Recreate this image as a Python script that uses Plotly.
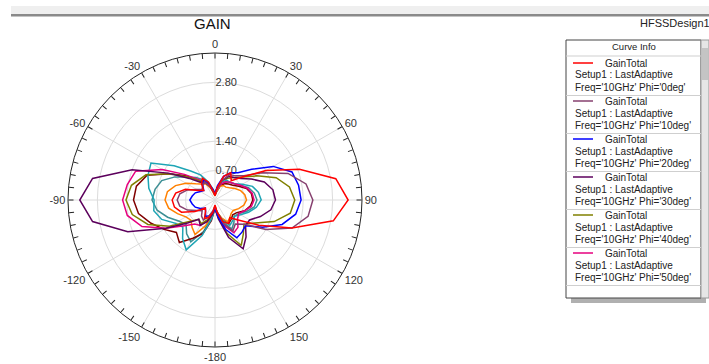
import plotly.graph_objects as go

# ---------------- data ----------------
theta_deg = list(range(-180, 181, 10))

gain_phi0 = [0.12, 0.3, 0.45, 0.5, 0.35, 0.3, 0.55, 0.85, 0.98, 1.02, 0.95, 0.75, 0.45, 0.35, 0.5, 0.6, 0.45, 0.2, 0.1,
             0.3, 0.6, 0.75, 0.6, 0.85, 1.4, 2.14, 2.92, 3.17, 2.86, 1.95, 1.2, 0.75, 0.55, 0.65, 0.55, 0.3, 0.12]
gain_phi10 = [0.15, 0.25, 0.4, 0.55, 0.5, 0.4, 0.5, 0.7, 0.85, 0.9, 0.85, 0.7, 0.5, 0.4, 0.45, 0.5, 0.35, 0.2, 0.12,
              0.25, 0.5, 0.7, 0.75, 0.9, 1.3, 1.85, 2.2, 2.33, 2.25, 1.95, 1.4, 0.9, 0.75, 0.85, 0.6, 0.3, 0.15]
gain_phi20 = [0.2, 0.3, 0.4, 0.45, 0.35, 0.3, 0.4, 0.5, 0.55, 0.6, 0.55, 0.5, 0.4, 0.35, 0.45, 0.55, 0.4, 0.25, 0.15,
              0.35, 0.6, 0.75, 0.85, 1.14, 1.6, 1.95, 2.02, 2.05, 1.95, 1.7, 1.3, 0.95, 1.0, 1.04, 0.75, 0.4, 0.2]
gain_phi30 = [0.2, 0.35, 0.55, 0.7, 0.6, 0.85, 1.35, 2.21, 2.96, 3.22, 2.96, 2.1, 1.28, 0.8, 0.55, 0.5, 0.35, 0.2, 0.15,
              0.3, 0.5, 0.65, 0.7, 0.8, 1.0, 1.25, 1.4, 1.44, 1.35, 1.15, 0.95, 0.95, 1.15, 1.34, 0.95, 0.45, 0.2]
gain_phi40 = [0.2, 0.3, 0.5, 0.65, 0.6, 0.8, 1.25, 1.7, 2.0, 2.12, 2.02, 1.75, 1.25, 0.85, 0.6, 0.5, 0.35, 0.2, 0.15,
              0.3, 0.5, 0.6, 0.7, 0.85, 1.15, 1.55, 1.8, 1.9, 1.82, 1.5, 1.1, 0.9, 1.05, 1.25, 0.85, 0.4, 0.2]
gain_phi50 = [0.2, 0.3, 0.5, 0.7, 0.75, 0.95, 1.35, 1.85, 2.12, 2.2, 2.12, 2.01, 1.45, 0.95, 0.65, 0.5, 0.35, 0.2, 0.12,
              0.25, 0.4, 0.5, 0.55, 0.6, 0.7, 0.82, 0.9, 0.93, 0.88, 0.75, 0.65, 0.7, 0.85, 0.9, 0.65, 0.35, 0.2]
gain_phi60 = [0.2, 0.45, 0.9, 1.37, 1.2, 1.0, 1.1, 1.35, 1.48, 1.45, 1.6, 1.7, 1.76, 1.27, 0.9, 0.69, 0.45, 0.25, 0.12,
              0.25, 0.45, 0.55, 0.55, 0.6, 0.75, 0.95, 1.05, 1.1, 1.0, 0.85, 0.7, 0.6, 0.65, 0.7, 0.5, 0.3, 0.2]
gain_phi70 = [0.15, 0.35, 0.65, 0.95, 0.85, 0.75, 0.8, 0.95, 1.12, 1.19, 1.15, 1.0, 0.8, 0.6, 0.5, 0.45, 0.3, 0.15, 0.1,
              0.2, 0.35, 0.4, 0.4, 0.45, 0.55, 0.65, 0.72, 0.75, 0.7, 0.6, 0.5, 0.5, 0.55, 0.6, 0.45, 0.3, 0.15]
gain_phi80 = [0.2, 0.5, 0.85, 1.05, 1.32, 1.2, 1.4, 1.62, 1.85, 1.94, 1.9, 1.72, 1.25, 0.9, 0.6, 0.5, 0.35, 0.2, 0.12,
              0.2, 0.35, 0.45, 0.5, 0.55, 0.65, 0.8, 0.88, 0.9, 0.85, 0.75, 0.6, 0.55, 0.6, 0.65, 0.5, 0.3, 0.2]
gain_phi90 = [0.2, 0.4, 0.8, 1.15, 1.05, 0.9, 1.0, 1.2, 1.4, 1.5, 1.45, 1.35, 1.1, 0.85, 0.7, 0.55, 0.4, 0.2, 0.1,
              0.2, 0.35, 0.5, 0.55, 0.6, 0.7, 0.85, 0.95, 1.0, 0.95, 0.8, 0.65, 0.6, 0.7, 0.8, 0.55, 0.3, 0.2]

phi_labels = ["0deg", "10deg", "20deg", "30deg", "40deg", "50deg", "60deg", "70deg", "80deg", "90deg"]
curve_colors = ["#ff0000", "#86406f", "#0000ff", "#5c005c", "#808000", "#e6007e",
                "#1ea5b5", "#ff8000", "#800000", "#3d8f94"]
all_gains = [gain_phi0, gain_phi10, gain_phi20, gain_phi30, gain_phi40,
             gain_phi50, gain_phi60, gain_phi70, gain_phi80, gain_phi90]

radial_ticks = [0.70, 1.40, 2.10, 2.80]
radial_max = 3.5
angle_labels = {0: "0", 30: "30", 60: "60", 90: "90", 120: "120", 150: "150",
                180: "-180", 210: "-150", 240: "-120", 270: "-90", 300: "-60", 330: "-30"}
legend_shown = 6

# ---------------- figure ----------------
W, H = 709, 364
fig = go.Figure()

# placeholder so the grid subplot is rendered
fig.add_trace(go.Scatterpolar(r=[0], theta=[0], mode="markers", marker=dict(opacity=0),
                              hoverinfo="skip", showlegend=False, subplot="polar"))

# data traces (red on top)
for i in reversed(range(len(all_gains))):
    fig.add_trace(go.Scatterpolar(
        r=all_gains[i], theta=theta_deg, mode="lines",
        line=dict(color=curve_colors[i], width=1.5),
        name="Phi='%s'" % phi_labels[i], subplot="polar2", showlegend=False))

R = 147
CX, CY = 215, 200
dom_x = [(CX - R) / W, (CX + R) / W]
dom_y = [1 - (CY + R) / H, 1 - (CY - R) / H]

tickvals5 = list(range(0, 360, 5))
ticktext5 = [angle_labels.get(v, "") for v in tickvals5]

fig.update_layout(
    template="none",
    width=W, height=H, margin=dict(l=0, r=0, t=0, b=0),
    paper_bgcolor="white", plot_bgcolor="white",
    font=dict(family="Arial, Liberation Sans, sans-serif", color="#222"),
    showlegend=False,
    polar=dict(
        domain=dict(x=dom_x, y=dom_y), bgcolor="white",
        radialaxis=dict(range=[0, radial_max], tickmode="array", tickvals=radial_ticks,
                        ticktext=["%.2f" % v for v in radial_ticks], showline=False, ticks="",
                        showgrid=True, gridcolor="#dcdcdc", gridwidth=1, angle=90,
                        side="clockwise", tickangle=90,
                        tickfont=dict(size=11, color="#333")),
        angularaxis=dict(rotation=90, direction="clockwise", dtick=30, showticklabels=False,
                         ticks="", showline=False, showgrid=True, gridcolor="#dcdcdc", gridwidth=1),
    ),
    polar2=dict(
        domain=dict(x=dom_x, y=dom_y), bgcolor="rgba(0,0,0,0)",
        radialaxis=dict(range=[0, radial_max], showgrid=False, showline=False,
                        showticklabels=False, ticks=""),
        angularaxis=dict(rotation=90, direction="clockwise", tickmode="array",
                         tickvals=tickvals5, ticktext=ticktext5, ticks="inside", ticklen=5,
                         tickcolor="#222", tickwidth=1, showline=True, linecolor="#222",
                         linewidth=1, showgrid=False, tickfont=dict(size=11, color="#333")),
    ),
)

def px(x):
    return x / W

def py(y):
    return 1 - y / H

shapes = []
annotations = []
TXT = "#222"

# top gray band
shapes.append(dict(type="rect", xref="paper", yref="paper", x0=px(11), x1=1, y0=py(14), y1=py(6),
                   fillcolor="#efefef", line=dict(width=0), layer="below"))
shapes.append(dict(type="rect", xref="paper", yref="paper", x0=px(11), x1=1, y0=py(16.5), y1=py(14),
                   fillcolor="#8a8a8a", line=dict(width=0)))

# title
annotations.append(dict(text="GAIN", x=px(213), y=py(23), xref="paper", yref="paper",
                        showarrow=False, font=dict(size=15, color="#111"), xanchor="center", yanchor="middle"))
annotations.append(dict(text="HFSSDesign1", x=px(638), y=py(23), xref="paper", yref="paper",
                        showarrow=False, font=dict(size=11, color=TXT), xanchor="left", yanchor="middle"))

# legend box
bx0, bx1, by0, by1 = 566, 701, 40, 298
shapes.append(dict(type="rect", xref="paper", yref="paper", x0=px(571), x1=px(706), y0=py(303), y1=py(298),
                   fillcolor="#b0b0b0", line=dict(width=0)))
shapes.append(dict(type="rect", xref="paper", yref="paper", x0=px(bx0), x1=px(bx1), y0=py(by1), y1=py(by0),
                   fillcolor="white", line=dict(color="#444", width=1)))
# scrollbar
shapes.append(dict(type="rect", xref="paper", yref="paper", x0=px(701), x1=px(709), y0=py(298), y1=py(40),
                   fillcolor="#e6e6e6", line=dict(color="#999", width=1)))
shapes.append(dict(type="rect", xref="paper", yref="paper", x0=px(702), x1=px(708), y0=py(80), y1=py(48),
                   fillcolor="#c4c4c4", line=dict(width=0)))
annotations.append(dict(text="Curve Info", x=px(634), y=py(47), xref="paper", yref="paper",
                        showarrow=False, font=dict(size=9.5, color=TXT), xanchor="center", yanchor="middle"))
shapes.append(dict(type="line", xref="paper", yref="paper", x0=px(bx0), x1=px(bx1), y0=py(56), y1=py(56),
                   line=dict(color="#cfcfcf", width=1)))

for i in range(legend_shown):
    base = 38 * i
    shapes.append(dict(type="line", xref="paper", yref="paper", x0=px(573), x1=px(593),
                       y0=py(63 + base), y1=py(63 + base), line=dict(color=curve_colors[i], width=1.5)))
    annotations.append(dict(text="GainTotal", x=px(603), y=py(63 + base), xref="paper", yref="paper",
                            showarrow=False, font=dict(size=10, color=TXT), xanchor="left", yanchor="middle"))
    annotations.append(dict(text="Setup1 : LastAdaptive", x=px(573), y=py(75 + base), xref="paper",
                            yref="paper", showarrow=False, font=dict(size=10, color=TXT),
                            xanchor="left", yanchor="middle"))
    annotations.append(dict(text="Freq='10GHz' Phi='%s'" % phi_labels[i], x=px(573), y=py(87 + base),
                            xref="paper", yref="paper", showarrow=False, font=dict(size=10, color=TXT),
                            xanchor="left", yanchor="middle"))
    shapes.append(dict(type="line", xref="paper", yref="paper", x0=px(bx0), x1=px(bx1),
                       y0=py(95.5 + base), y1=py(95.5 + base), line=dict(color="#cfcfcf", width=1)))

fig.update_layout(shapes=shapes, annotations=annotations)
fig.write_html("out.html", config=dict(displayModeBar=False),
               post_script="document.body.style.margin='0';document.body.style.overflow='hidden';")
